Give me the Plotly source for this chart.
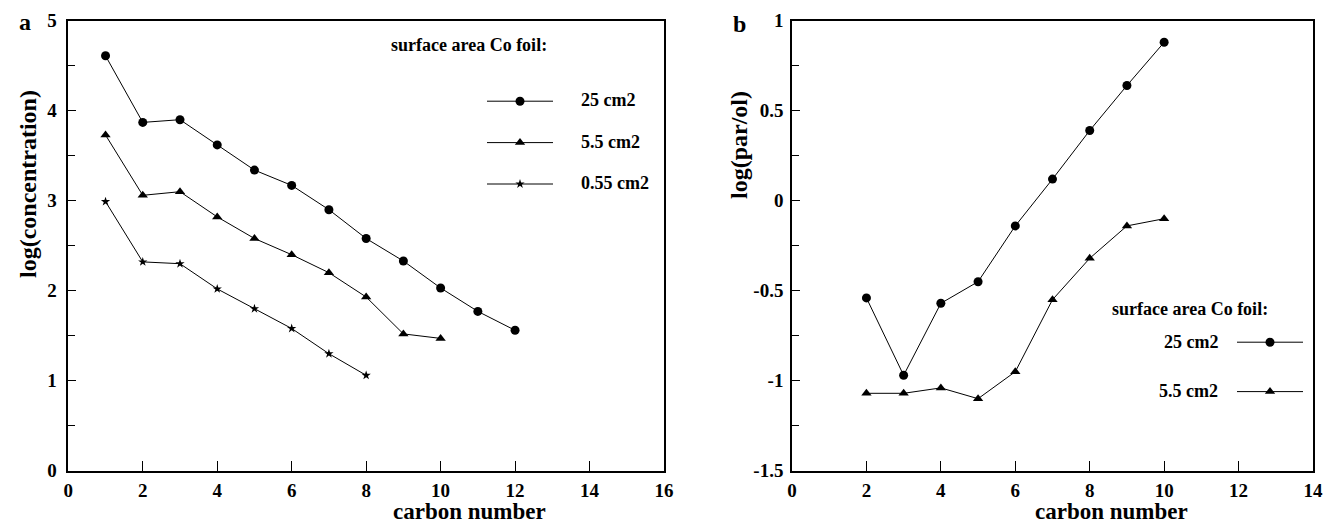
import plotly.graph_objects as go

# ---------------- data ----------------
carbon_a_25 = [1, 2, 3, 4, 5, 6, 7, 8, 9, 10, 11, 12]
conc_25 = [4.61, 3.87, 3.90, 3.62, 3.34, 3.17, 2.90, 2.58, 2.33, 2.03, 1.77, 1.56]
carbon_a_55 = [1, 2, 3, 4, 5, 6, 7, 8, 9, 10]
conc_5_5 = [3.73, 3.06, 3.10, 2.82, 2.58, 2.40, 2.20, 1.93, 1.52, 1.47]
carbon_a_055 = [1, 2, 3, 4, 5, 6, 7, 8]
conc_0_55 = [2.99, 2.32, 2.30, 2.02, 1.80, 1.58, 1.30, 1.06]

carbon_b = [2, 3, 4, 5, 6, 7, 8, 9, 10]
par_25 = [-0.54, -0.97, -0.57, -0.45, -0.14, 0.12, 0.39, 0.64, 0.88]
par_5_5 = [-1.07, -1.07, -1.04, -1.10, -0.95, -0.55, -0.32, -0.14, -0.10]

series_names = ["25 cm2", "5.5 cm2", "0.55 cm2"]
legend_title = "surface area Co foil:"
xticks_a = [0, 2, 4, 6, 8, 10, 12, 14, 16]
yticks_a = [0, 1, 2, 3, 4, 5]
xticks_b = [0, 2, 4, 6, 8, 10, 12, 14]
yticks_b = [-1.5, -1, -0.5, 0, 0.5, 1]
yticktext_b = ["-1.5", "-1", "-0.5", "0", "0.5", "1"]

# ---------------- style ----------------
W, H = 1326, 525
FONT = "Liberation Serif"
BLK = "black"
tickfont = dict(family=FONT, size=19, color=BLK, weight="bold")
legfont = dict(family=FONT, size=18, color=BLK, weight="bold")
NB = "\u00a0"


def px_x(p):
    return p / W


def px_y(p):
    return 1 - p / H


fig = go.Figure()

line = dict(color=BLK, width=1)

# panel a
fig.add_trace(go.Scatter(x=carbon_a_25, y=conc_25, mode="lines+markers", name=NB,
                         line=line, marker=dict(symbol="circle", size=9, color=BLK),
                         xaxis="x", yaxis="y", legend="legend", legendgroup="a1"))
fig.add_trace(go.Scatter(x=carbon_a_55, y=conc_5_5, mode="lines+markers", name=NB,
                         line=line, marker=dict(symbol="triangle-up", size=9, color=BLK),
                         xaxis="x", yaxis="y", legend="legend", legendgroup="a2"))
fig.add_trace(go.Scatter(x=carbon_a_055, y=conc_0_55, mode="lines+markers", name=NB,
                         line=line, marker=dict(symbol="star", size=7, color=BLK),
                         xaxis="x", yaxis="y", legend="legend", legendgroup="a3"))

# panel b
fig.add_trace(go.Scatter(x=carbon_b, y=par_25, mode="lines+markers", name=NB,
                         line=line, marker=dict(symbol="circle", size=9, color=BLK),
                         xaxis="x2", yaxis="y2", legend="legend2", legendgroup="b1"))
fig.add_trace(go.Scatter(x=carbon_b, y=par_5_5, mode="lines+markers", name=NB,
                         line=line, marker=dict(symbol="triangle-up", size=9, color=BLK),
                         xaxis="x2", yaxis="y2", legend="legend2", legendgroup="b2"))

dom_y = [px_y(470.7), px_y(20.7)]

axis_common = dict(showline=True, linecolor=BLK, linewidth=1.5, mirror=True, showgrid=False,
                   zeroline=False, ticks="inside", tickcolor=BLK, tickfont=tickfont)

fig.update_layout(
    width=W, height=H,
    margin=dict(l=0, r=0, t=0, b=0, autoexpand=False),
    paper_bgcolor="white", plot_bgcolor="white",
    font=dict(family=FONT, color=BLK),
    xaxis=dict(domain=[px_x(68.3), px_x(664)], range=[0, 16], tickvals=xticks_a,
               ticklen=10, anchor="y", ticklabelstandoff=2, **axis_common),
    yaxis=dict(domain=dom_y, range=[0, 5], tickvals=yticks_a, ticklen=8, anchor="x",
               ticklabelstandoff=6,
               minor=dict(dtick=0.5, ticks="inside", ticklen=7, tickcolor=BLK), **axis_common),
    xaxis2=dict(domain=[px_x(792), px_x(1313)], range=[0, 14], tickvals=xticks_b,
                ticklen=10, anchor="y2", ticklabelstandoff=2, **axis_common),
    yaxis2=dict(domain=dom_y, range=[-1.5, 1], tickvals=yticks_b, ticktext=yticktext_b,
                ticklen=8, anchor="x2", ticklabelstandoff=3,
                minor=dict(dtick=0.25, ticks="inside", ticklen=7, tickcolor=BLK), **axis_common),
    legend=dict(x=px_x(482), y=px_y(83), xanchor="left", yanchor="top", font=legfont,
                itemwidth=66, tracegroupgap=15, traceorder="grouped",
                bgcolor="rgba(0,0,0,0)", borderwidth=0),
    legend2=dict(x=px_x(1232), y=px_y(324), xanchor="left", yanchor="top", font=legfont,
                 itemwidth=66, tracegroupgap=23, traceorder="grouped",
                 bgcolor="rgba(0,0,0,0)", borderwidth=0),
    showlegend=True,
)

ann_font = dict(family=FONT, size=18, color=BLK, weight="bold")
title_font = dict(family=FONT, size=24, color=BLK, weight="bold")
xtitle_font = dict(family=FONT, size=23, color=BLK, weight="bold")
annotations = [
    dict(text=legend_title, x=px_x(389), y=px_y(45), xanchor="left", yanchor="middle", font=ann_font),
    dict(text=series_names[0], x=px_x(579), y=px_y(100), xanchor="left", yanchor="middle", font=ann_font),
    dict(text=series_names[1], x=px_x(579), y=px_y(142), xanchor="left", yanchor="middle", font=ann_font),
    dict(text=series_names[2], x=px_x(579), y=px_y(183), xanchor="left", yanchor="middle", font=ann_font),
    dict(text=legend_title, x=px_x(1110), y=px_y(309), xanchor="left", yanchor="middle", font=ann_font),
    dict(text=series_names[0], x=px_x(1220), y=px_y(342), xanchor="right", yanchor="middle", font=ann_font),
    dict(text=series_names[1], x=px_x(1220), y=px_y(391), xanchor="right", yanchor="middle", font=ann_font),
    dict(text="carbon number", x=px_x(469), y=0, xanchor="center", yanchor="bottom",
         borderpad=0, font=xtitle_font),
    dict(text="carbon number", x=px_x(1111), y=0, xanchor="center", yanchor="bottom",
         borderpad=0, font=xtitle_font),
    dict(text="log(concentration)", x=px_x(28), y=px_y(184), xanchor="center", yanchor="middle",
         textangle=-90, font=title_font),
    dict(text="log(par/ol)", x=px_x(739), y=px_y(145), xanchor="center", yanchor="middle",
         textangle=-90, font=title_font),
    dict(text="a", x=px_x(25), y=px_y(22), xanchor="center", yanchor="middle", font=title_font),
    dict(text="b", x=px_x(739), y=px_y(24), xanchor="center", yanchor="middle", font=title_font),
]
for a in annotations:
    a.update(xref="paper", yref="paper", showarrow=False)
fig.update_layout(annotations=annotations)

fig.write_html("out.html")
